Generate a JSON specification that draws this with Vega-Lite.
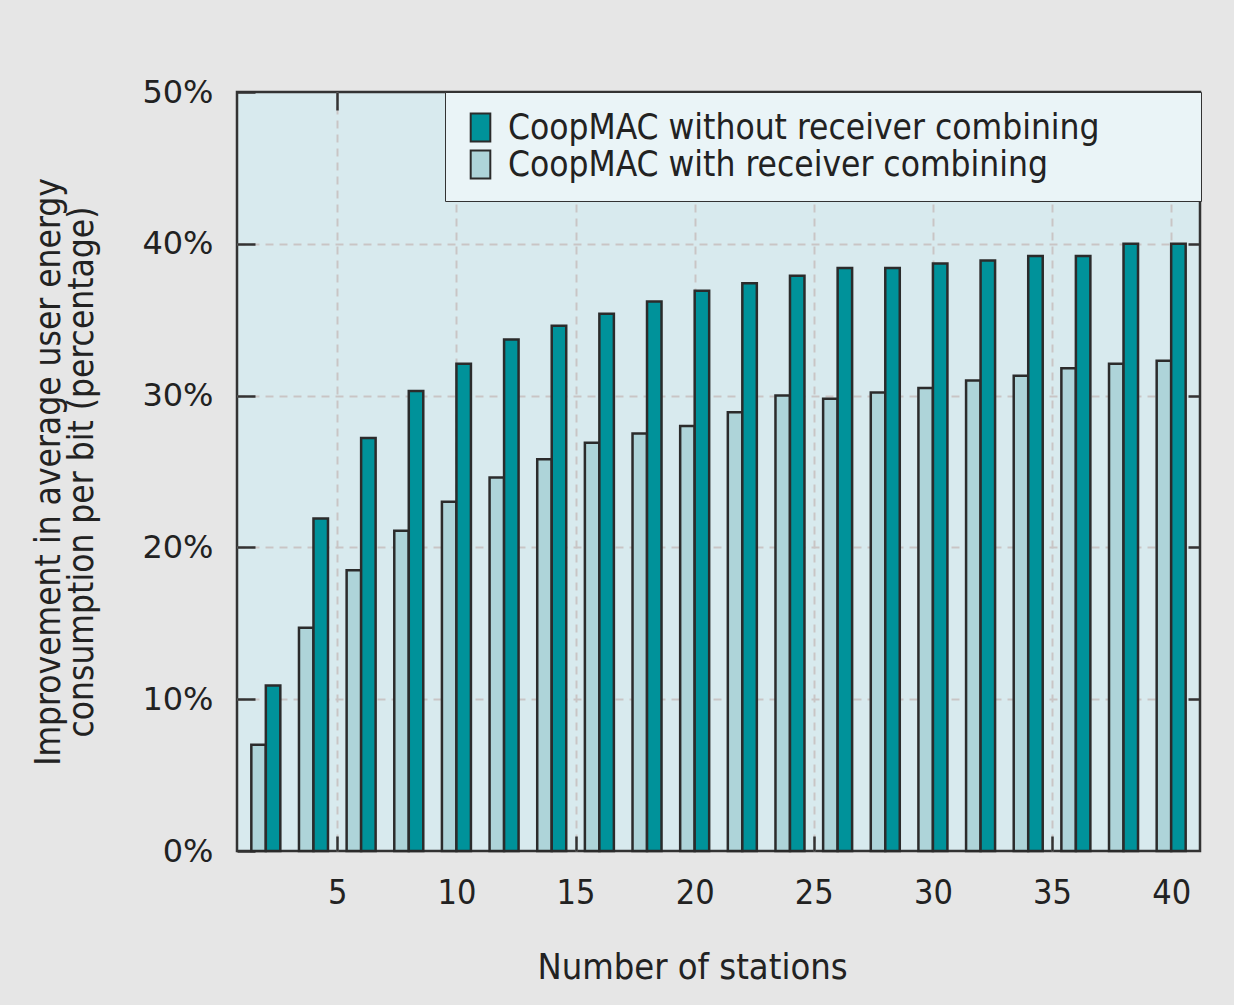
{
  "$schema": "https://vega.github.io/schema/vega-lite/v6.json",
  "width": 963,
  "height": 759,
  "autosize": {"type": "none"},
  "padding": {"left": 237, "top": 92, "right": 34, "bottom": 154},
  "background": "#e6e6e6",
  "config": {
    "view": {"fill": "#d8eaee", "stroke": "#333333", "strokeWidth": 2.5},
    "axis": {
      "domain": false,
      "tickColor": "#333333",
      "tickWidth": 2.5,
      "gridColor": "#c9c5c5",
      "gridDash": [8, 6],
      "gridWidth": 2,
      "labelColor": "#222222",
      "titleColor": "#222222",
      "titleFontWeight": "normal"
    }
  },
  "data": {
    "values": [
      {"stations": 2, "series": "CoopMAC without receiver combining", "improvement": 10.9},
      {"stations": 4, "series": "CoopMAC without receiver combining", "improvement": 21.9},
      {"stations": 6, "series": "CoopMAC without receiver combining", "improvement": 27.2},
      {"stations": 8, "series": "CoopMAC without receiver combining", "improvement": 30.3},
      {"stations": 10, "series": "CoopMAC without receiver combining", "improvement": 32.1},
      {"stations": 12, "series": "CoopMAC without receiver combining", "improvement": 33.7},
      {"stations": 14, "series": "CoopMAC without receiver combining", "improvement": 34.6},
      {"stations": 16, "series": "CoopMAC without receiver combining", "improvement": 35.4},
      {"stations": 18, "series": "CoopMAC without receiver combining", "improvement": 36.2},
      {"stations": 20, "series": "CoopMAC without receiver combining", "improvement": 36.9},
      {"stations": 22, "series": "CoopMAC without receiver combining", "improvement": 37.4},
      {"stations": 24, "series": "CoopMAC without receiver combining", "improvement": 37.9},
      {"stations": 26, "series": "CoopMAC without receiver combining", "improvement": 38.4},
      {"stations": 28, "series": "CoopMAC without receiver combining", "improvement": 38.4},
      {"stations": 30, "series": "CoopMAC without receiver combining", "improvement": 38.7},
      {"stations": 32, "series": "CoopMAC without receiver combining", "improvement": 38.9},
      {"stations": 34, "series": "CoopMAC without receiver combining", "improvement": 39.2},
      {"stations": 36, "series": "CoopMAC without receiver combining", "improvement": 39.2},
      {"stations": 38, "series": "CoopMAC without receiver combining", "improvement": 40.0},
      {"stations": 40, "series": "CoopMAC without receiver combining", "improvement": 40.0},
      {"stations": 2, "series": "CoopMAC with receiver combining", "improvement": 7.0},
      {"stations": 4, "series": "CoopMAC with receiver combining", "improvement": 14.7},
      {"stations": 6, "series": "CoopMAC with receiver combining", "improvement": 18.5},
      {"stations": 8, "series": "CoopMAC with receiver combining", "improvement": 21.1},
      {"stations": 10, "series": "CoopMAC with receiver combining", "improvement": 23.0},
      {"stations": 12, "series": "CoopMAC with receiver combining", "improvement": 24.6},
      {"stations": 14, "series": "CoopMAC with receiver combining", "improvement": 25.8},
      {"stations": 16, "series": "CoopMAC with receiver combining", "improvement": 26.9},
      {"stations": 18, "series": "CoopMAC with receiver combining", "improvement": 27.5},
      {"stations": 20, "series": "CoopMAC with receiver combining", "improvement": 28.0},
      {"stations": 22, "series": "CoopMAC with receiver combining", "improvement": 28.9},
      {"stations": 24, "series": "CoopMAC with receiver combining", "improvement": 30.0},
      {"stations": 26, "series": "CoopMAC with receiver combining", "improvement": 29.8},
      {"stations": 28, "series": "CoopMAC with receiver combining", "improvement": 30.2},
      {"stations": 30, "series": "CoopMAC with receiver combining", "improvement": 30.5},
      {"stations": 32, "series": "CoopMAC with receiver combining", "improvement": 31.0},
      {"stations": 34, "series": "CoopMAC with receiver combining", "improvement": 31.3},
      {"stations": 36, "series": "CoopMAC with receiver combining", "improvement": 31.8},
      {"stations": 38, "series": "CoopMAC with receiver combining", "improvement": 32.1},
      {"stations": 40, "series": "CoopMAC with receiver combining", "improvement": 32.3}
    ]
  },
  "layer": [
    {
      "transform": [{"filter": "datum.series === 'CoopMAC with receiver combining'"}],
      "mark": {"type": "bar", "width": 14.5, "xOffset": -7.25, "stroke": "#2b2b2b", "strokeWidth": 2.5},
      "encoding": {
        "x": {
          "field": "stations",
          "type": "quantitative",
          "scale": {"domain": [1, 41], "nice": false, "zero": false},
          "axis": {
            "orient": "bottom",
            "values": [5, 10, 15, 20, 25, 30, 35, 40],
            "grid": true,
            "tickSize": -15,
            "labelPadding": 57,
            "labelBaseline": "middle",
            "labelFont": "DejaVu Sans Condensed",
            "labelFontSize": 34,
            "title": "Number of stations",
            "titleFont": "DejaVu Sans Condensed",
            "titleFontSize": 36,
            "titleX": 455,
            "titleY": 116,
            "titleAlign": "center",
            "titleBaseline": "middle"
          }
        },
        "y": {
          "field": "improvement",
          "type": "quantitative",
          "scale": {"domain": [0, 50], "nice": false},
          "axis": {
            "orient": "left",
            "values": [0, 10, 20, 30, 40, 50],
            "labelExpr": "datum.value + '%'",
            "grid": true,
            "gridOpacity": {"condition": {"test": "datum.value === 0 || datum.value === 50", "value": 0}, "value": 1},
            "tickSize": -18,
            "labelPadding": 42,
            "labelFont": "DejaVu Sans",
            "labelFontSize": 32,
            "title": ["Improvement in average user energy", "consumption per bit (percentage)"],
            "titleFont": "DejaVu Sans Condensed",
            "titleFontSize": 35,
            "titleLineHeight": 33,
            "titleX": -189,
            "titleY": 379.5,
            "titleAngle": -90,
            "titleAlign": "center",
            "titleBaseline": "middle"
          }
        },
        "color": {
          "field": "series",
          "type": "nominal",
          "scale": {
            "domain": ["CoopMAC without receiver combining", "CoopMAC with receiver combining"],
            "range": ["#00929a", "#aed4d9"]
          },
          "legend": {
            "title": null,
            "orient": "none",
            "legendX": 208,
            "legendY": 0,
            "direction": "vertical",
            "fillColor": "#eaf4f7",
            "strokeColor": "#333333",
            "padding": 18,
            "rowPadding": 0,
            "symbolType": "M-0.7,-1H0.7V1H-0.7Z",
            "symbolSize": 784,
            "symbolStrokeColor": "#2b2b2b",
            "symbolStrokeWidth": 2,
            "symbolOpacity": 1,
            "labelOffset": 10,
            "labelFont": "DejaVu Sans Condensed",
            "labelFontSize": 35,
            "labelColor": "#222222",
            "labelLimit": 800,
            "labelExpr": "datum.label + '      \u2800'"
          }
        }
      }
    },
    {
      "transform": [{"filter": "datum.series === 'CoopMAC without receiver combining'"}],
      "mark": {"type": "bar", "width": 14.5, "xOffset": 7.25, "stroke": "#2b2b2b", "strokeWidth": 2.5},
      "encoding": {
        "x": {
          "field": "stations",
          "type": "quantitative",
          "axis": {
            "orient": "top",
            "values": [5, 10, 15, 20, 25, 30, 35, 40],
            "grid": false,
            "labels": false,
            "tickSize": -18,
            "title": null
          }
        },
        "y": {
          "field": "improvement",
          "type": "quantitative",
          "axis": {
            "orient": "right",
            "values": [10, 20, 30, 40],
            "grid": false,
            "labels": false,
            "tickSize": -12,
            "title": null
          }
        },
        "color": {"field": "series", "type": "nominal"}
      }
    }
  ],
  "resolve": {"axis": {"x": "independent", "y": "independent"}}
}
